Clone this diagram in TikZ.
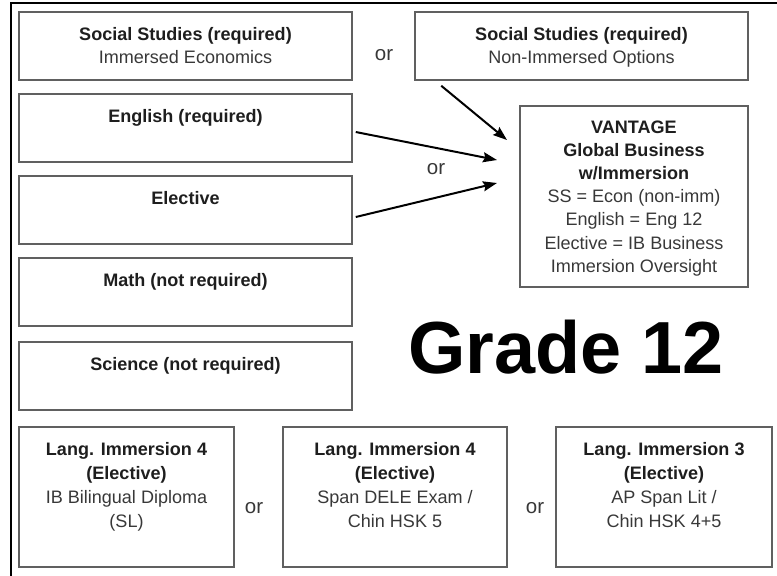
\documentclass[tikz,border=0pt]{standalone}
\usepackage{fontspec}
\setmainfont{Liberation Sans}
\usetikzlibrary{arrows.meta,positioning}
\definecolor{boxline}{HTML}{606060}
\definecolor{boldtxt}{HTML}{1E1E1E}
\definecolor{plaintxt}{HTML}{383838}
\newcommand{\hd}[1]{{\bfseries\color{boldtxt}#1}}
\begin{document}
\begin{tikzpicture}[x=0.03cm,y=-0.03cm,
 box/.style={draw=boxline,line width=0.045cm,inner sep=0pt,minimum width=9.99cm,minimum height=2.04cm},
 txt/.style={inner sep=0pt,align=center,text=plaintxt,font=\fontsize{15.4}{19.6}\selectfont},
 ortxt/.style={inner sep=0pt,text=plaintxt,font=\fontsize{17.5}{17.5}\selectfont},
 link/.style={line width=0.06cm,-{Stealth[length=0.42cm,width=0.3cm,inset=0.06cm]}}]
 \useasboundingbox (0,0) rectangle (777,575);
 \draw[line width=0.08cm] (11,600) -- (11,3) -- (800,3);
 \node[box] (ss1) at (185.5,46) {};
 \node[box] (ss2) at (581.5,46) {};
 \node[box] (eng) at (185.5,128) {};
 \node[box] (elec) at (185.5,210) {};
 \node[box] (math) at (185.5,292) {};
 \node[box] (sci) at (185.5,376) {};
 \node[box,minimum width=6.84cm,minimum height=5.43cm] (van) at (634,196.5) {};
 \node[box,minimum width=6.45cm,minimum height=4.2cm] (li1) at (126.5,497) {};
 \node[box,minimum width=6.72cm,minimum height=4.2cm] (li2) at (395,497) {};
 \node[box,minimum width=6.48cm,minimum height=4.2cm] (li3) at (664,497) {};
 \node[txt,below=0.48cm of ss1.north] (ss1t) {\hd{Social Studies (required)}\\Immersed Economics};
 \node[txt,below=0.48cm of ss2.north] (ss2t) {\hd{Social Studies (required)}\\Non-Immersed Options};
 \node[txt,below=0.48cm of eng.north] (engt) {\hd{English (required)}};
 \node[txt,below=0.48cm of elec.north] (elect) {\hd{Elective}};
 \node[txt,below=0.48cm of math.north] (matht) {\hd{Math (not required)}};
 \node[txt,below=0.48cm of sci.north] (scit) {\hd{Science (not required)}};
 \node[txt,below=0.45cm of van.north,font=\fontsize{15.4}{19.8}\selectfont] (vant) {\hd{VANTAGE}\\\hd{Global Business}\\\hd{w/Immersion}\\SS = Econ (non-imm)\\English = Eng 12\\Elective = IB Business\\Immersion Oversight};
 \node[txt,below=0.48cm of li1.north,font=\fontsize{15.4}{20.5}\selectfont] (li1t) {\hd{Lang. Immersion 4}\\\hd{(Elective)}\\IB Bilingual Diploma\\(SL)};
 \node[txt,below=0.48cm of li2.north,font=\fontsize{15.4}{20.5}\selectfont] (li2t) {\hd{Lang. Immersion 4}\\\hd{(Elective)}\\Span DELE Exam /\\Chin HSK 5};
 \node[txt,below=0.48cm of li3.north,font=\fontsize{15.4}{20.5}\selectfont] (li3t) {\hd{Lang. Immersion 3}\\\hd{(Elective)}\\AP Span Lit /\\Chin HSK 4+5};
 \node[ortxt] (or1) at (384,55) {or};
 \node[ortxt] (or2) at (436,169) {or};
 \node[ortxt] (or3) at (254,508) {or};
 \node[ortxt] (or4) at (535,508) {or};
 \node[inner sep=0pt,font=\bfseries\fontsize{63}{63}\selectfont] (grade) at (566,347) {Grade 12};
 \coordinate (vin1) at (507,140);
 \coordinate (vin2) at (497,160);
 \coordinate (vin3) at (497,183);
 \draw[link] ([shift={(27,5)}]ss2.south west) -- (vin1);
 \draw[link] ([shift={(3,4)}]eng.east) -- (vin2);
 \draw[link] ([shift={(3,7)}]elec.east) -- (vin3);
\end{tikzpicture}
\end{document}
